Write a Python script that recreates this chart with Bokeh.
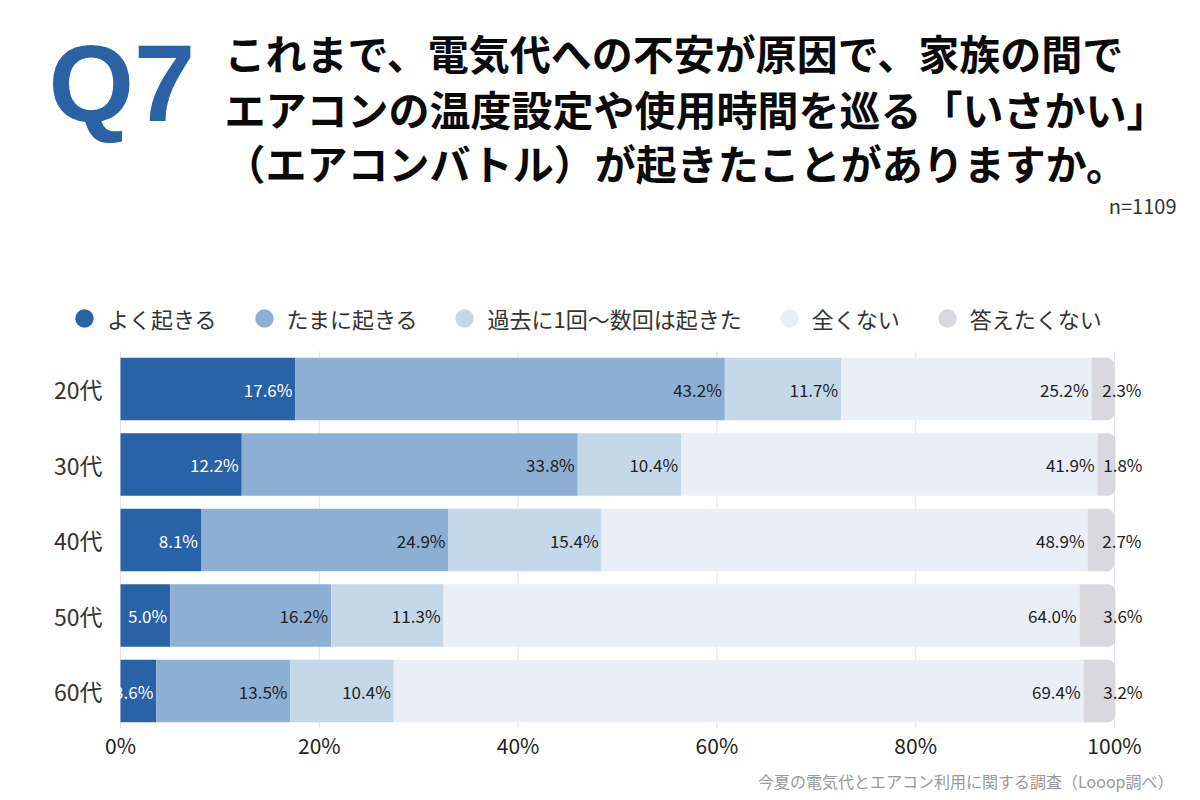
from bokeh.plotting import figure
from bokeh.models import Range1d, Label, Legend, LegendItem, ColumnDataSource
from bokeh.core.properties import value
from bokeh.embed import file_html
from bokeh.resources import INLINE

categories = ["20代", "30代", "40代", "50代", "60代"]
series_names = ["よく起きる", "たまに起きる", "過去に1回〜数回は起きた", "全くない", "答えたくない"]
often = [17.6, 12.2, 8.1, 5.0, 3.6]
sometimes = [43.2, 33.8, 24.9, 16.2, 13.5]
past = [11.7, 10.4, 15.4, 11.3, 10.4]
never = [25.2, 41.9, 48.9, 64.0, 69.4]
no_answer = [2.3, 1.8, 2.7, 3.6, 3.2]
x_ticks = [0, 20, 40, 60, 80, 100]

colors = ["#2a62a7", "#8eafd4", "#c5d8ea", "#eaeff7", "#d8d8de"]
label_colors = ["#ffffff", "#222222", "#222222", "#222222", "#222222"]
JP = "Noto Sans CJK JP"

W, H = 1200, 800
# layout of the scales: 0% at px 120, 1% = 9.94 px; category pitch 75.5 px
X0, XS = 120, 9.94
PITCH, TOPC = 75.5, 388.5
n = len(categories)
ypos = [n - 1 - i for i in range(n)]               # 20代 on top
y_bottom_px = TOPC + PITCH * (n - 1)
y_range = Range1d(-(H - y_bottom_px) / PITCH, (n - 1) + TOPC / PITCH)
x_range = Range1d(-X0 / XS, (W - X0) / XS)

p = figure(width=W, height=H, output_backend="svg", toolbar_location=None,
           x_range=x_range, y_range=y_range, x_axis_type=None, y_axis_type=None,
           min_border=0, outline_line_color=None,
           background_fill_color="white", border_fill_color="white")

# vertical grid lines at the ticks, spanning the bar area
p.segment(x0=x_ticks, x1=x_ticks, y0=min(ypos) - 0.5, y1=max(ypos) + 0.5,
          line_color="#e4e4ea", line_width=1)

series = [often, sometimes, past, never, no_answer]
sources = []
left = [0.0] * n
for vals in series:
    right = [l + v for l, v in zip(left, vals)]
    sources.append(ColumnDataSource(dict(y=ypos, left=left, right=right,
                                         mid=[(l + r) / 2 for l, r in zip(left, right)],
                                         lab=[f"{v:.1f}%" for v in vals])))
    left = right

# legend marker renderers: drawn first, hidden beneath the bars
legend_items = []
for i, src in enumerate(sources):
    lr = p.scatter(x="mid", y="y", source=src, marker="circle", size=14,
                   fill_color=colors[i], line_color=None)
    legend_items.append(LegendItem(label=series_names[i], renderers=[lr]))

for i, src in enumerate(sources):
    kw = {}
    if i == len(sources) - 1:
        kw["border_radius"] = (0, 8, 8, 0)
    p.hbar(y="y", left="left", right="right", height=0.83, source=src,
           fill_color=colors[i], line_color=None, **kw)
for i, src in enumerate(sources):
    p.text(x="right", y="y", text="lab", source=src,
           x_offset=(27 if i == len(sources) - 1 else -3),
           text_align="right", text_baseline="middle",
           text_font=value(JP), text_font_size="17px", text_color=label_colors[i])

# category labels (left of 0%)
p.text(x=[0.0] * n, y=ypos, text=categories, x_offset=-18, text_align="right",
       text_baseline="middle", text_font=value(JP), text_font_size="23px", text_color="#333333")
# x tick labels (below the bars)
p.text(x=x_ticks, y=[min(ypos) - 0.5] * len(x_ticks), text=[f"{t}%" for t in x_ticks],
       y_offset=16, text_align="center", text_baseline="middle",
       text_font=value(JP), text_font_size="21px", text_color="#222222")

legend = Legend(items=legend_items, orientation="horizontal", location=(61, H - 343),
                glyph_width=46, glyph_height=50, label_standoff=0, spacing=24,
                padding=0, margin=0, border_line_color=None, background_fill_alpha=0,
                label_text_font=JP, label_text_font_size="22px", label_text_color="#333333")
p.add_layout(legend, "center")

def label(cx, cy, text, **kw):
    p.add_layout(Label(x=cx, y=H - cy, x_units="screen", y_units="screen",
                       text=text, text_baseline="middle", **kw))

label(48, 82, "Q7", text_font="Liberation Sans", text_font_style="bold",
      text_font_size="110px", text_color="#2b62a6")
title_lines = ["これまで、電気代への不安が原因で、家族の間で",
               "エアコンの温度設定や使用時間を巡る「いさかい」",
               "（エアコンバトル）が起きたことがありますか。"]
for ln, cy in zip(title_lines, [51, 107, 161]):
    label(224, cy, ln, text_font=JP, text_font_style="bold", text_font_size="41px",
          text_color="#0a0a0a")
label(1176, 205, "n=1109", text_font=JP, text_font_size="20px", text_color="#333333",
      text_align="right")
label(1173, 780, "今夏の電気代とエアコン利用に関する調査（Looop調べ）", text_font=JP,
      text_font_size="16px", text_color="#999999", text_align="right")

open("out.html", "w").write(file_html(p, INLINE))
